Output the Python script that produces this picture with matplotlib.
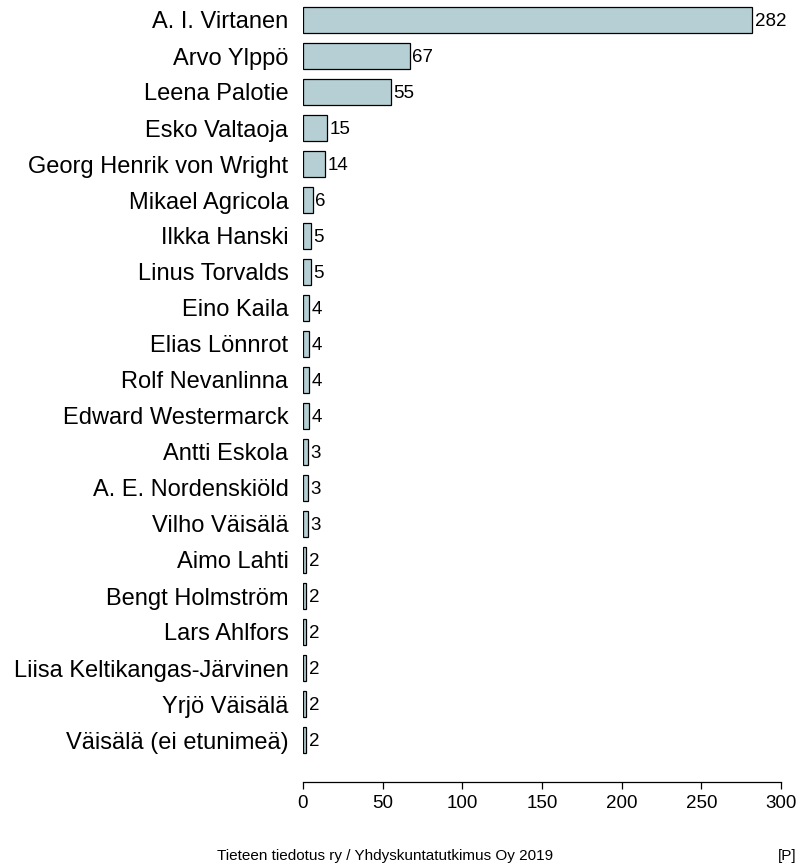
import matplotlib
matplotlib.use("Agg")
import matplotlib.pyplot as plt

plt.rcParams['font.family'] = ['Liberation Sans', 'DejaVu Sans']

names = ["A. I. Virtanen", "Arvo Ylppö", "Leena Palotie", "Esko Valtaoja",
         "Georg Henrik von Wright", "Mikael Agricola", "Ilkka Hanski",
         "Linus Torvalds", "Eino Kaila", "Elias Lönnrot", "Rolf Nevanlinna",
         "Edward Westermarck", "Antti Eskola", "A. E. Nordenskiöld",
         "Vilho Väisälä", "Aimo Lahti", "Bengt Holmström", "Lars Ahlfors",
         "Liisa Keltikangas-Järvinen", "Yrjö Väisälä", "Väisälä (ei etunimeä)"]
counts = [282, 67, 55, 15, 14, 6, 5, 5, 4, 4, 4, 4, 3, 3, 3, 2, 2, 2, 2, 2, 2]
xticks = [0, 50, 100, 150, 200, 250, 300]

fig = plt.figure(figsize=(8.01, 8.67), dpi=100)
ax = fig.add_axes([303/801, 1 - 758/867, 478/801, 756/867])

pos = list(range(len(names)))
ax.barh(pos, counts, height=0.7, color="#b5cfd5", edgecolor="black", linewidth=0.9)
for p, c in zip(pos, counts):
    ax.text(c + 1.5, p + 0.05, str(c), va="center", ha="left", fontsize=13.5)

ax.set_ylim(len(names) - 0.5, -0.5)
ax.set_xlim(0, 300)
ax.set_yticks(pos)
ax.set_yticklabels(names, fontsize=17)
ax.tick_params(axis="y", length=0, pad=10.5)
ax.set_xticks(xticks)
ax.tick_params(axis="x", length=5, width=0.9, labelsize=13.5, pad=4)
for s in ["left", "right", "top"]:
    ax.spines[s].set_visible(False)
ax.spines["bottom"].set_position(("outward", 17.3))
ax.spines["bottom"].set_linewidth(0.9)

fig.text(385/801, 1 - 856/867, "Tieteen tiedotus ry / Yhdyskuntatutkimus Oy 2019",
         ha="center", va="center", fontsize=11)
fig.text(778/801, 1 - 856/867, "[P]", ha="left", va="center", fontsize=11)

fig.savefig("out.png", dpi=100)
